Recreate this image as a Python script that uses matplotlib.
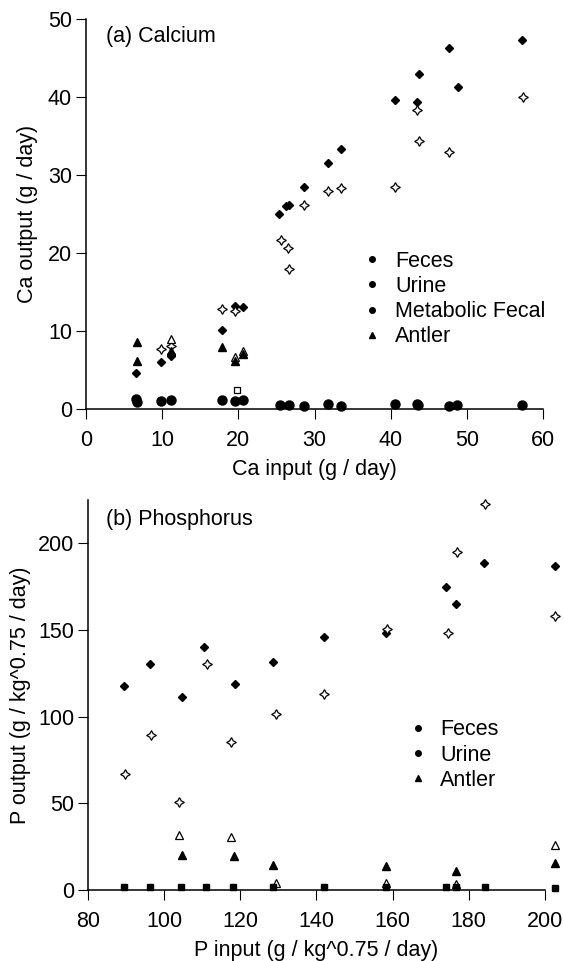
import matplotlib
matplotlib.use('Agg')
import matplotlib.pyplot as plt
from matplotlib.lines import Line2D

plt.rcParams['font.family'] = ['Liberation Sans', 'DejaVu Sans']
FS = 15.5

# ---- (a) Calcium ----
ca_feces_x = [6.6, 9.8, 11.2, 11.1, 17.9, 19.6, 20.6, 25.3, 26.3, 26.7, 28.6, 31.8, 33.5,
              40.5, 43.4, 43.7, 47.7, 48.8, 57.2]
ca_feces_y = [4.6, 6.0, 6.8, 7.1, 10.1, 13.2, 13.1, 25.0, 26.0, 26.1, 28.4, 31.5, 33.3,
              39.6, 39.4, 43.0, 46.3, 41.3, 47.3]
ca_pred_x = [9.8, 11.2, 17.9, 19.6, 25.6, 26.5, 26.7, 28.6, 31.8, 33.5, 40.6, 43.4, 43.7, 47.7, 57.3]
ca_pred_y = [7.65, 8.1, 12.8, 12.6, 21.7, 20.7, 18.0, 26.2, 27.9, 28.3, 28.5, 38.3, 34.3, 33.0, 40.0]
ca_urine_x = [6.6, 6.7, 9.8, 11.2, 17.9, 19.6, 20.6, 25.5, 26.7, 28.6, 31.7, 33.5,
              40.5, 43.4, 43.6, 47.6, 48.7, 57.2]
ca_urine_y = [1.3, 0.9, 1.0, 1.15, 1.15, 1.0, 1.2, 0.45, 0.45, 0.42, 0.64, 0.42,
              0.64, 0.66, 0.45, 0.42, 0.48, 0.45]
ca_metab_x = [19.8]
ca_metab_y = [2.4]
ca_antler_x = [6.65, 6.65, 11.2, 17.9, 19.6, 20.6]
ca_antler_y = [8.6, 6.1, 7.5, 7.9, 6.1, 7.0]
ca_antler_pred_x = [11.1, 19.6, 20.6]
ca_antler_pred_y = [9.0, 6.7, 7.4]

# ---- (b) Phosphorus ----
p_feces_x = [89.4, 96.3, 104.6, 110.5, 118.6, 128.5, 141.9, 158.4, 174.1, 176.7, 184.0, 202.6]
p_feces_y = [117.6, 130.6, 111.4, 140.2, 119.1, 131.6, 146.2, 148.3, 174.6, 165.2, 188.6, 186.7]
p_pred_x = [89.7, 96.5, 103.9, 111.2, 117.6, 129.5, 141.9, 158.6, 174.5, 176.9, 184.2, 202.7]
p_pred_y = [67.2, 89.3, 50.5, 130.6, 85.1, 101.4, 113.3, 150.4, 148.1, 195.2, 222.9, 158.3]
p_urine_x = [89.4, 96.3, 104.4, 111.0, 118.0, 128.6, 141.9, 158.4, 174.1, 176.7, 184.2, 202.6]
p_urine_y = [1.9, 1.8, 1.9, 2.0, 1.9, 1.8, 1.7, 1.5, 1.7, 1.5, 1.6, 1.3]
p_antler_x = [104.6, 118.4, 128.5, 158.4, 176.6, 202.6]
p_antler_y = [20.2, 19.6, 14.4, 13.8, 11.1, 15.7]
p_antler_pred_x = [103.9, 117.6, 129.3, 158.4, 176.7, 202.6]
p_antler_pred_y = [31.7, 30.3, 4.2, 3.8, 3.5, 25.9]

star4 = (4, 1, 0)


def style_axes(ax):
    ax.spines['top'].set_visible(False)
    ax.spines['right'].set_visible(False)
    ax.spines['left'].set_linewidth(1.1)
    ax.spines['bottom'].set_linewidth(1.1)
    ax.tick_params(direction='out', length=7, width=0.8, labelsize=FS)
    ax.tick_params(axis='x', pad=8)
    ax.tick_params(axis='y', pad=3)


def small_legend(ax, labels, markers, anchor):
    handles = [Line2D([], [], linestyle='none', marker=m, color='black', markersize=4)
               for m in markers]
    ax.legend(handles, labels, loc='center left', bbox_to_anchor=anchor, frameon=False,
              fontsize=FS, handlelength=0.7, handletextpad=0.7, labelspacing=0.2,
              borderpad=0, borderaxespad=0)


fig = plt.figure(figsize=(5.64, 9.61), dpi=100)
ax1 = fig.add_axes([0.1525, 0.5744, 0.8105, 0.4058])
ax2 = fig.add_axes([0.156, 0.0739, 0.810, 0.4058])

# panel a
ax1.plot(ca_urine_x, ca_urine_y, 'o', color='black', markersize=6.5, clip_on=False, zorder=3)
ax1.plot(ca_metab_x, ca_metab_y, 's', mfc='white', mec='black', markersize=4, mew=0.9)
ax1.plot(ca_feces_x, ca_feces_y, 'D', color='black', markersize=4.2)
ax1.plot(ca_pred_x, ca_pred_y, marker=star4, linestyle='none', mfc='white', mec='black',
         markersize=7, mew=0.9)
ax1.plot(ca_antler_pred_x, ca_antler_pred_y, '^', mfc='white', mec='black', markersize=6, mew=0.9)
ax1.plot(ca_antler_x, ca_antler_y, '^', color='black', markersize=5.5)
ax1.set_xlim(0, 60)
ax1.set_ylim(0, 50)
ax1.set_xticks([0, 10, 20, 30, 40, 50, 60])
ax1.set_yticks([0, 10, 20, 30, 40, 50])
style_axes(ax1)
ax1.set_xlabel('Ca input (g / day)', fontsize=FS)
ax1.set_ylabel('Ca output (g / day)', fontsize=FS)
ax1.xaxis.set_label_coords(0.5, -0.128)
ax1.yaxis.set_label_coords(-0.105, 0.5)
ax1.text(0.044, 0.954, '(a) Calcium', transform=ax1.transAxes, fontsize=FS, va='center', ha='left')
small_legend(ax1, ['Feces', 'Urine', 'Metabolic Fecal', 'Antler'], ['o', 'o', 'o', '^'],
             (0.61, 0.282))

# panel b
ax2.plot(p_urine_x, p_urine_y, 's', color='black', markersize=4, clip_on=False, zorder=3)
ax2.plot(p_feces_x, p_feces_y, 'D', color='black', markersize=4.2, clip_on=False)
ax2.plot(p_pred_x, p_pred_y, marker=star4, linestyle='none', mfc='white', mec='black',
         markersize=7, mew=0.9, clip_on=False)
ax2.plot(p_antler_pred_x, p_antler_pred_y, '^', mfc='white', mec='black', markersize=6, mew=0.9,
         clip_on=False)
ax2.plot(p_antler_x, p_antler_y, '^', color='black', markersize=5.5, clip_on=False)
ax2.set_xlim(80, 200)
ax2.set_ylim(0, 225)
ax2.set_xticks([80, 100, 120, 140, 160, 180, 200])
ax2.set_yticks([0, 50, 100, 150, 200])
style_axes(ax2)
ax2.set_xlabel('P input (g / kg^0.75 / day)', fontsize=FS)
ax2.set_ylabel('P output (g / kg^0.75 / day)', fontsize=FS)
ax2.xaxis.set_label_coords(0.5, -0.127)
ax2.yaxis.set_label_coords(-0.125, 0.5)
ax2.text(0.039, 0.951, '(b) Phosphorus', transform=ax2.transAxes, fontsize=FS, va='center', ha='left')
small_legend(ax2, ['Feces', 'Urine', 'Antler'], ['o', 'o', '^'], (0.705, 0.346))

fig.savefig('out.png', dpi=100)
